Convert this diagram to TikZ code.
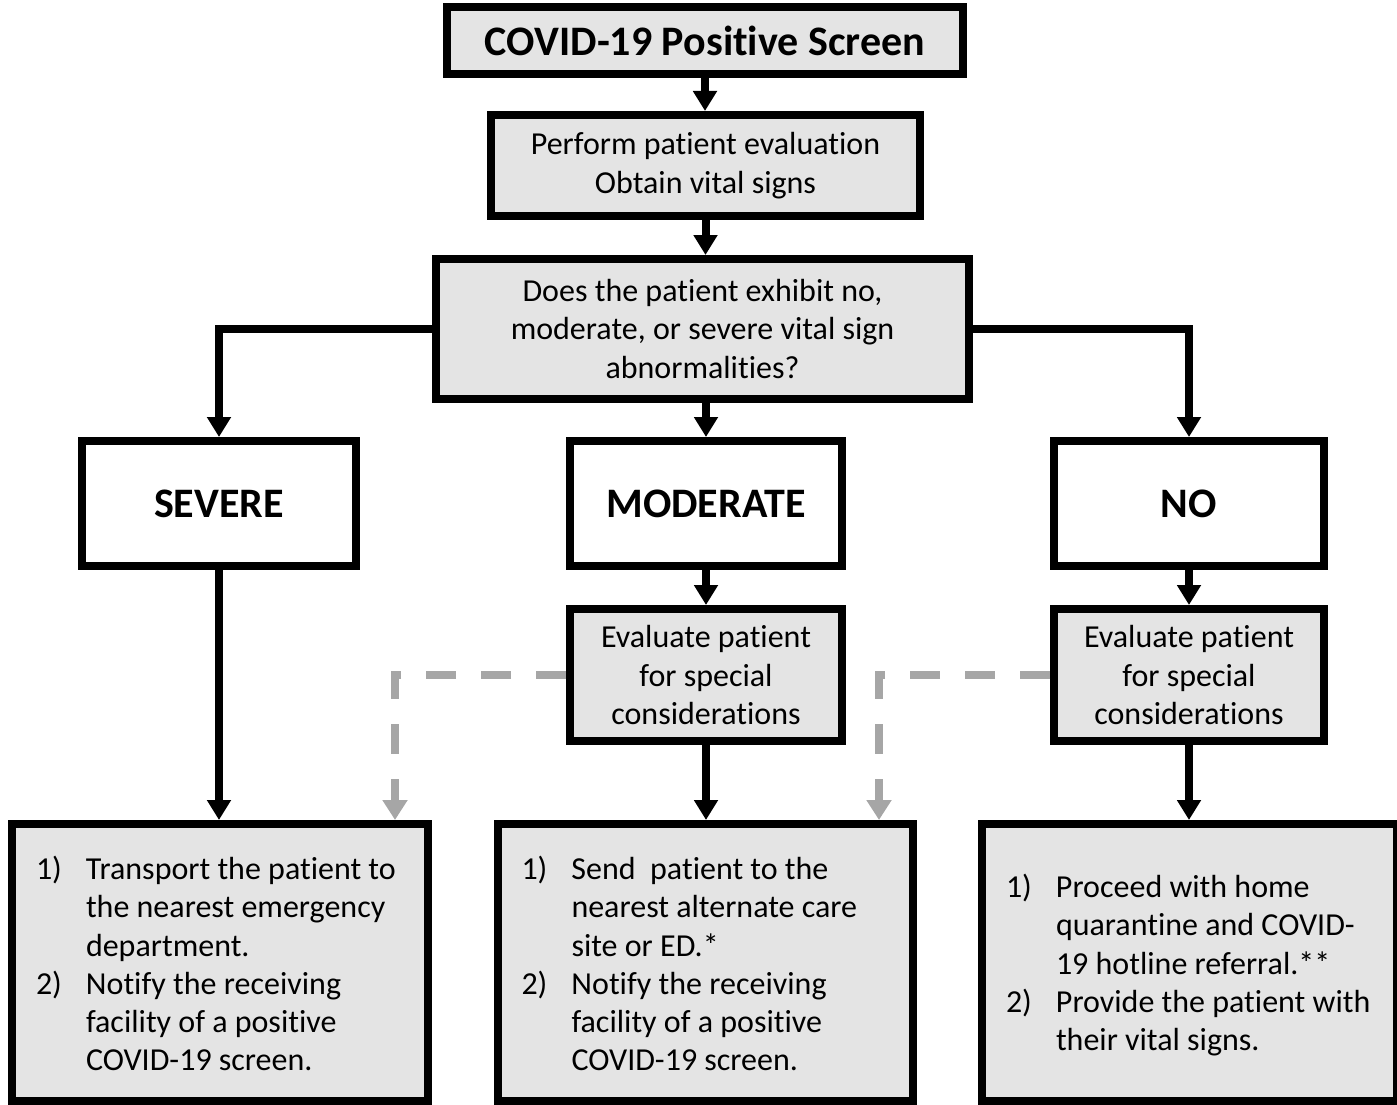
\documentclass[tikz,border=0pt]{standalone}
\usepackage{fontspec}
\setmainfont{Carlito}[Ligatures=NoCommon]
\usetikzlibrary{arrows.meta}
\definecolor{boxgray}{HTML}{E4E4E4}
\definecolor{dashgray}{HTML}{A6A6A6}

\begin{document}
\begin{tikzpicture}[x=1pt, y=-1pt,
        base-node/.style={rectangle,draw=black,line width=8pt,inner sep=0pt,font=\fontsize{32}{38.3}\selectfont},
        gray-node/.style={base-node,fill=boxgray,align=center},
        head-node/.style={base-node,fill=white,font=\fontsize{42}{50}\selectfont\bfseries},
        title-node/.style={head-node,fill=boxgray},
        action-node/.style={base-node,fill=boxgray},
        flow-arrow/.style={line width=8pt,-{Triangle[width=23pt,length=20pt]}},
        side-arrow/.style={line width=8pt,draw=dashgray,dash pattern=on 30pt off 25pt,
            -{Triangle[width=24pt,length=20pt]}},
    ]
    \useasboundingbox (0,0) rectangle (1397,1105);

    \node[title-node, minimum width=516pt, minimum height=67pt] (title) at (705,40.5) {COVID-19 Positive Screen};
    \node[gray-node, minimum width=429pt, minimum height=101pt] (eval) at (705.5,165.5)
        {Perform patient evaluation\\Obtain vital signs};
    \node[gray-node, minimum width=533pt, minimum height=140pt] (question) at (702.5,329)
        {Does the patient exhibit no,\\moderate, or severe vital sign\\abnormalities?};

    \node[head-node, minimum width=274pt, minimum height=125pt] (severe) at (219,503.5) {SEVERE};
    \node[head-node, minimum width=272pt, minimum height=125pt] (moderate) at (706,503.5) {MODERATE};
    \node[head-node, minimum width=270pt, minimum height=125pt] (no) at (1189,503.5) {NO};

    \node[gray-node, minimum width=272pt, minimum height=132pt] (evalM) at (706,675)
        {Evaluate patient\\for special\\considerations};
    \node[gray-node, minimum width=270pt, minimum height=132pt] (evalN) at (1189,675)
        {Evaluate patient\\for special\\considerations};

    \node[action-node, minimum width=416pt, minimum height=277pt] (bottomL) at (220,962.5) {%
        \raisebox{-5pt}[\height][\depth]{\begin{tabular}{@{}p{50pt}@{}p{318pt}@{}}
            1) & Transport the patient to\\
               & the nearest emergency\\
               & department.\\
            2) & Notify the receiving\\
               & facility of a positive\\
               & COVID-19 screen.
        \end{tabular}}};
    \node[action-node, minimum width=415pt, minimum height=277pt] (bottomM) at (705.5,962.5) {%
        \raisebox{-5pt}[\height][\depth]{\begin{tabular}{@{}p{50pt}@{}p{318pt}@{}}
            1) & Send\ \ patient to the\\
               & nearest alternate care\\
               & site or ED.*\\
            2) & Notify the receiving\\
               & facility of a positive\\
               & COVID-19 screen.
        \end{tabular}}};
    \node[action-node, minimum width=415pt, minimum height=277pt] (bottomR) at (1189.5,962.5) {%
        \raisebox{-4pt}[\height][\depth]{\begin{tabular}{@{}p{50pt}@{}p{317pt}@{}}
            1) & Proceed with home\\
               & quarantine and COVID-\\
               & 19 hotline referral.**\\
            2) & Provide the patient with\\
               & their vital signs.
        \end{tabular}}};

    \coordinate (dropL) at (395,820);
    \coordinate (dropM) at (879,820);

    % main flow
    \draw[flow-arrow] (title.south) -- (title.south |- eval.north);
    \draw[flow-arrow] (eval.south) -- (eval.south |- question.north);
    \draw[flow-arrow] (question.west) -| (severe.north);
    \draw[flow-arrow] (question.south -| moderate.north) -- (moderate.north);
    \draw[flow-arrow] (question.east) -| (no.north);
    \draw[flow-arrow] (severe.south) -- (severe.south |- bottomL.north);
    \draw[flow-arrow] (moderate.south) -- (evalM.north);
    \draw[flow-arrow] (evalM.south) -- (evalM.south |- bottomM.north);
    \draw[flow-arrow] (no.south) -- (evalN.north);
    \draw[flow-arrow] (evalN.south) -- (evalN.south |- bottomR.north);

    % special considerations
    \draw[side-arrow] (evalM.west) -| (dropL);
    \draw[side-arrow] (evalN.west) -| (dropM);
\end{tikzpicture}
\end{document}
